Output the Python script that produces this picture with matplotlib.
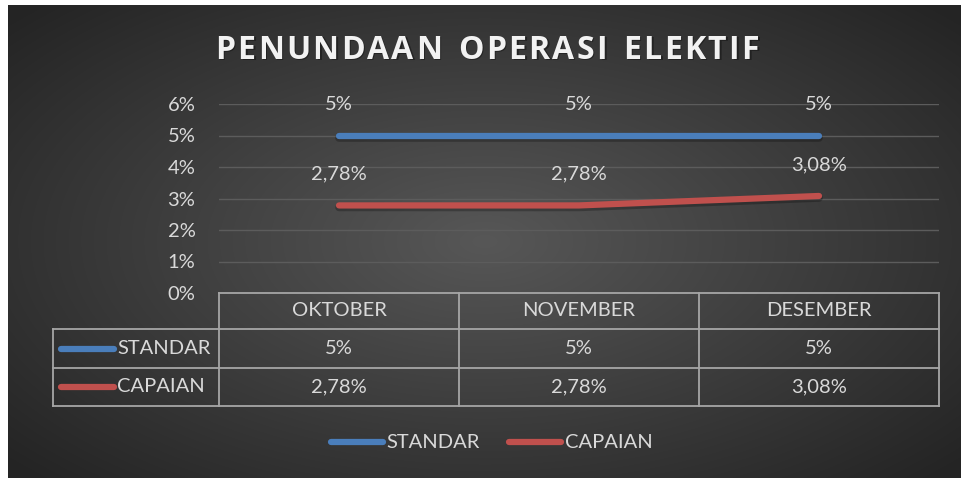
import numpy as np
import matplotlib
matplotlib.use("Agg")
import matplotlib.pyplot as plt
from matplotlib.ticker import FuncFormatter

# ---- data ----
title = "PENUNDAAN OPERASI ELEKTIF"
categories = ["OKTOBER", "NOVEMBER", "DESEMBER"]
series_names = ["STANDAR", "CAPAIAN"]
standar = [5.0, 5.0, 5.0]
capaian = [2.78, 2.78, 3.08]
standar_labels = ["5%", "5%", "5%"]
capaian_labels = ["2,78%", "2,78%", "3,08%"]
y_ticks = [0, 1, 2, 3, 4, 5, 6]

colors = {"STANDAR": "#4a7ebb", "CAPAIAN": "#c0504d"}
TXT = "#d9d9d9"
FONT = ["Lato", "DejaVu Sans"]
FS = 14.5

W, H = 962, 478
fig = plt.figure(figsize=(W / 100, H / 100), dpi=100)
fig.patch.set_facecolor("white")

def fx(px):
    return px / W

def fy(py):
    return 1 - py / H

# ---- background (radial gradient) ----
bg = fig.add_axes([fx(8), 0, 1 - fx(8), 1 - 5 / H])
bg.set_axis_off()
nx, ny = 954, 473
xx, yy = np.meshgrid(np.linspace(-1, 1, nx), np.linspace(-1, 1, ny))
r = np.sqrt((xx / 1.0) ** 2 + (yy / 1.05) ** 2)
r = np.clip(r / 1.35, 0, 1)
c_in, c_out = 0x57, 0x24
val = (c_in + (c_out - c_in) * r) / 255.0
img = np.dstack([val, val, val])
bg.imshow(img, aspect="auto", extent=[0, 1, 0, 1], interpolation="bilinear")
bg.set_xlim(0, 1)
bg.set_ylim(0, 1)

# ---- main plot ----
left, right, top, bottom = 219, 939, 104, 293
ax = fig.add_axes([fx(left), fy(bottom), fx(right - left), (bottom - top) / H])
ax.set_facecolor("none")
x = np.arange(len(categories))
ax.set_xlim(-0.5, len(categories) - 0.5)
ax.set_ylim(0, 6)
ax.set_yticks(y_ticks)
ax.yaxis.set_major_formatter(FuncFormatter(lambda v, p: f"{int(v)}%"))
ax.tick_params(axis="y", length=0, pad=17, labelsize=FS, labelcolor=TXT)
for lab in ax.get_yticklabels():
    lab.set_family(FONT)
ax.set_xticks([])
for s in ax.spines.values():
    s.set_visible(False)
for t in y_ticks[1:]:
    ax.axhline(t, color="#5c5c5c", lw=1.0, zorder=1)

for name, vals, labs in [("STANDAR", standar, standar_labels),
                         ("CAPAIAN", capaian, capaian_labels)]:
    # soft shadow
    ax.plot(x, vals, color="black", alpha=0.25, lw=5.5, solid_capstyle="round",
            zorder=2, transform=ax.transData + matplotlib.transforms.ScaledTranslation(0, -2 / 100, fig.dpi_scale_trans))
    ax.plot(x, vals, color=colors[name], lw=4.5, solid_capstyle="round", zorder=3)
    for xi, v, lb in zip(x, vals, labs):
        ax.annotate(lb, (xi, v), xytext=(0, 22.5), textcoords="offset points",
                    ha="center", va="center", color=TXT, fontsize=FS, family=FONT)

# ---- overlay for table, title, legend (pixel coordinates) ----
ov = fig.add_axes([0, 0, 1, 1])
ov.set_axis_off()
ov.set_xlim(0, W)
ov.set_ylim(H, 0)
ov.patch.set_alpha(0)

GRID = "#a6a6a6"
lw_t = 1.3
row_y = [293, 329, 368, 406]
col_x = [219, 459, 699, 939]
label_left = 53
# horizontal lines
ov.plot([col_x[0], col_x[-1]], [row_y[0], row_y[0]], color=GRID, lw=lw_t)
for yv in row_y[1:]:
    ov.plot([label_left, col_x[-1]], [yv, yv], color=GRID, lw=lw_t)
# vertical lines
for xv in col_x:
    ov.plot([xv, xv], [row_y[0], row_y[-1]], color=GRID, lw=lw_t)
ov.plot([label_left, label_left], [row_y[1], row_y[-1]], color=GRID, lw=lw_t)

# header text
for i, cat in enumerate(categories):
    cx = (col_x[i] + col_x[i + 1]) / 2
    ov.text(cx, (row_y[0] + row_y[1]) / 2, cat, ha="center", va="center",
            color=TXT, fontsize=FS, family=FONT)
# rows
rows = [("STANDAR", standar_labels), ("CAPAIAN", capaian_labels)]
for r_i, (name, labs) in enumerate(rows):
    cy = (row_y[r_i + 1] + row_y[r_i + 2]) / 2
    ov.plot([61, 114], [cy, cy], color=colors[name], lw=4.5, solid_capstyle="round")
    ov.text(117, cy, name, ha="left", va="center", color=TXT, fontsize=FS, family=FONT)
    for i, lb in enumerate(labs):
        cx = (col_x[i] + col_x[i + 1]) / 2
        ov.text(cx, cy, lb, ha="center", va="center", color=TXT, fontsize=FS, family=FONT)

# legend
leg_y = 442
leg_items = [("STANDAR", 331, 383, 386), ("CAPAIAN", 509, 561, 565)]
for name, x0, x1, tx in leg_items:
    ov.plot([x0, x1], [leg_y, leg_y], color=colors[name], lw=4.5, solid_capstyle="round")
    ov.text(tx, leg_y, name, ha="left", va="center", color=TXT, fontsize=FS, family=FONT)

# title with letter spacing
fig.canvas.draw()
renderer = fig.canvas.get_renderer()
title_fs = 23
spacing = 2.3  # px
title_font = ["Open Sans", "DejaVu Sans"]
widths = []
for ch in title:
    t = ov.text(0, 0, ch if ch != " " else "n", fontsize=title_fs, family=title_font,
                fontweight="bold")
    bb = t.get_window_extent(renderer)
    w = bb.width if ch != " " else bb.width * 0.55
    widths.append(w)
    t.remove()
total = sum(widths) + spacing * (len(title) - 1)
cx0 = 487 - total / 2
cur = cx0
for ch, w in zip(title, widths):
    if ch != " ":
        ov.text(cur + 1.5, 50 + 1.5, ch, fontsize=title_fs, family=title_font, fontweight="bold",
                color="black", alpha=0.35, ha="left", va="center")
        ov.text(cur, 50, ch, fontsize=title_fs, family=title_font, fontweight="bold",
                color="#f2f2f2", ha="left", va="center")
    cur += w + spacing

fig.savefig("out.png", dpi=100, facecolor=fig.get_facecolor())
